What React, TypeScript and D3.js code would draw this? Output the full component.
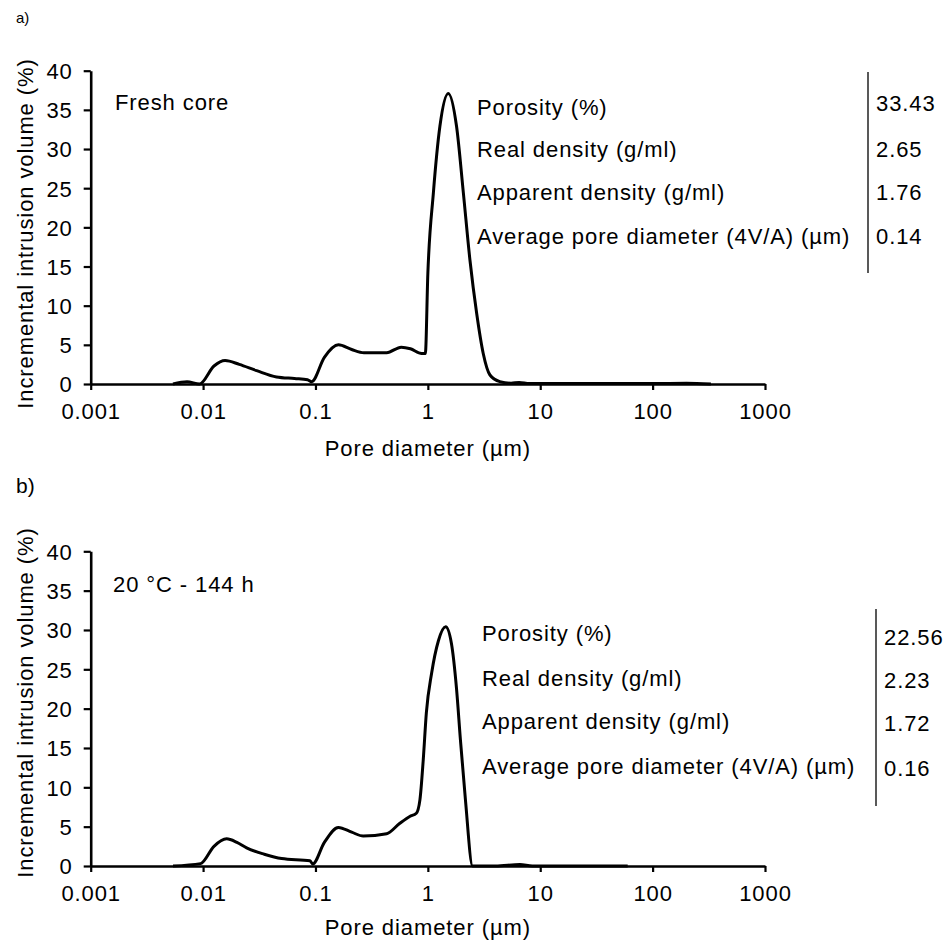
import React, { useEffect, useRef } from 'react'
import * as d3 from 'd3'

// pore diameter (µm) vs incremental intrusion volume (%)
const freshDiam = [0.0054, 0.0072, 0.0093, 0.0125, 0.0157, 0.021, 0.03, 0.045, 0.065, 0.085, 0.0925, 0.12, 0.16, 0.21, 0.27, 0.43, 0.58, 0.7, 0.88, 0.95, 1.0, 1.12, 1.28, 1.52, 1.8, 2.07, 2.37, 2.72, 3.11, 3.57, 4.37, 5.5, 6.5, 8, 20, 100, 200, 330]
const freshVol = [0, 0.3, 0, 2.3, 3.0, 2.5, 1.7, 0.9, 0.7, 0.55, 0.3, 3.4, 5.0, 4.4, 4.0, 4.0, 4.7, 4.5, 3.9, 3.9, 14.1, 24.4, 32.9, 37.1, 32.9, 24.4, 15.8, 9.0, 3.9, 1.15, 0.3, 0.1, 0.2, 0.05, 0.05, 0.05, 0.1, 0]

const agedDiam = [0.0054, 0.0095, 0.0125, 0.0162, 0.02, 0.0244, 0.035, 0.05, 0.0894, 0.0944, 0.12, 0.16, 0.21, 0.266, 0.43, 0.56, 0.69, 0.79, 0.85, 0.91, 0.97, 1.08, 1.24, 1.44, 1.62, 1.8, 1.95, 2.16, 2.5, 4, 6.6, 8.5, 60]
const agedVol = [0, 0.3, 2.5, 3.45, 3.0, 2.3, 1.5, 0.95, 0.67, 0.25, 3.0, 4.9, 4.3, 3.8, 4.1, 5.4, 6.3, 6.7, 8.4, 13.5, 19.5, 24.5, 28.6, 30.4, 28.3, 22.5, 16.0, 8.4, 0, 0, 0.2, 0, 0]

const xTicks = [0.001, 0.01, 0.1, 1, 10, 100, 1000]
const xTickLabels = ['0.001', '0.01', '0.1', '1', '10', '100', '1000']
const yTicks = [0, 5, 10, 15, 20, 25, 30, 35, 40]

const statLabels = ['Porosity (%)', 'Real density (g/ml)', 'Apparent density (g/ml)', 'Average pore diameter (4V/A) (µm)']
const freshStats = ['33.43', '2.65', '1.76', '0.14']
const agedStats = ['22.56', '2.23', '1.72', '0.16']

const W = 952
const H = 942
const FONT = '"Liberation Sans", Arial, Helvetica, sans-serif'

const panels = [
  {
    tag: 'a)', tagX: 16, tagY: 23, tagSize: 15,
    y0: 384, y1: 70.7,
    note: 'Fresh core', noteX: 115, noteY: 110,
    diam: freshDiam, vol: freshVol,
    stats: freshStats,
    labelX: 477, valueX: 876, lineX: 868, lineTop: 72, lineBot: 273,
    labelY: [115, 157, 200, 244], valueY: [111, 157, 200, 244],
    titleY: 233.5, xTitleY: 456,
  },
  {
    tag: 'b)', tagX: 16, tagY: 493, tagSize: 21,
    y0: 866, y1: 551.3,
    note: '20 °C - 144 h', noteX: 113, noteY: 592,
    diam: agedDiam, vol: agedVol,
    stats: agedStats,
    labelX: 482, valueX: 884, lineX: 876, lineTop: 609, lineBot: 806,
    labelY: [641, 686, 729, 774], valueY: [645, 688, 731, 776],
    titleY: 702.5, xTitleY: 935,
  },
]

const App = () => {
  const ref = useRef<SVGSVGElement>(null)

  useEffect(() => {
    const svg = d3.select(ref.current)
    svg.selectAll('*').remove()

    const x = d3.scaleLog().domain([0.001, 1000]).range([90.7, 765])

    panels.forEach(p => {
      const y = d3.scaleLinear().domain([0, 40]).range([p.y0, p.y1])
      const g = svg.append('g')
        .style('font-family', FONT)
        .style('letter-spacing', '0.9px')

      g.append('text')
        .attr('x', p.tagX).attr('y', p.tagY)
        .attr('font-size', p.tagSize)
        .style('letter-spacing', '0px')
        .text(p.tag)

      // y axis
      const yAxis = g.append('g')
        .attr('transform', `translate(${x(0.001)},0)`)
        .call(d3.axisLeft(y).tickValues(yTicks).tickSize(7).tickSizeOuter(0).tickPadding(11))
      yAxis.select('.domain').attr('stroke', '#000').attr('stroke-width', 2.6)
      yAxis.selectAll('.tick line').attr('stroke', '#000').attr('stroke-width', 2.2)
      yAxis.selectAll('.tick text')
        .attr('font-family', FONT).attr('font-size', 22).attr('fill', '#000')
        .attr('dy', '0.36em')

      // x axis
      const xAxis = g.append('g')
        .attr('transform', `translate(0,${p.y0})`)
        .call(d3.axisBottom(x).tickValues(xTicks).tickSize(6).tickSizeOuter(0)
          .tickFormat((d, i) => xTickLabels[i]))
      xAxis.select('.domain').attr('stroke', '#000').attr('stroke-width', 2.6)
      xAxis.selectAll('.tick line').attr('stroke', '#000').attr('stroke-width', 2.2)
      xAxis.selectAll('.tick text')
        .attr('font-family', FONT).attr('font-size', 22).attr('fill', '#000')
        .attr('y', 35).attr('dy', 0)

      // curve
      const pts = p.diam.map((d, i) => [d, p.vol[i]] as [number, number])
      const line = d3.line<[number, number]>()
        .x(d => x(d[0]))
        .y(d => y(d[1]))
        .curve(d3.curveMonotoneX)
      g.append('path')
        .attr('d', line(pts))
        .attr('fill', 'none')
        .attr('stroke', '#000')
        .attr('stroke-width', 3)
        .attr('stroke-linejoin', 'round')

      // titles
      g.append('text')
        .attr('transform', `translate(33,${p.titleY}) rotate(-90)`)
        .attr('text-anchor', 'middle')
        .attr('font-size', 22)
        .text('Incremental intrusion volume (%)')
      g.append('text')
        .attr('x', x(1)).attr('y', p.xTitleY)
        .attr('text-anchor', 'middle')
        .attr('font-size', 22)
        .text('Pore diameter (µm)')

      g.append('text')
        .attr('x', p.noteX).attr('y', p.noteY)
        .attr('font-size', 22)
        .text(p.note)

      // stats table
      statLabels.forEach((s, i) => {
        g.append('text')
          .attr('x', p.labelX).attr('y', p.labelY[i])
          .attr('font-size', 22)
          .text(s)
        g.append('text')
          .attr('x', p.valueX).attr('y', p.valueY[i])
          .attr('font-size', 22)
          .text(p.stats[i])
      })
      g.append('line')
        .attr('x1', p.lineX).attr('x2', p.lineX)
        .attr('y1', p.lineTop).attr('y2', p.lineBot)
        .attr('stroke', '#222').attr('stroke-width', 1.5)
    })

    return () => { svg.selectAll('*').remove() }
  }, [])

  return (
    <svg ref={ref} width={W} height={H}
      style={{ position: 'absolute', left: 0, top: 0, background: '#fff' }} />
  )
}

export default App
